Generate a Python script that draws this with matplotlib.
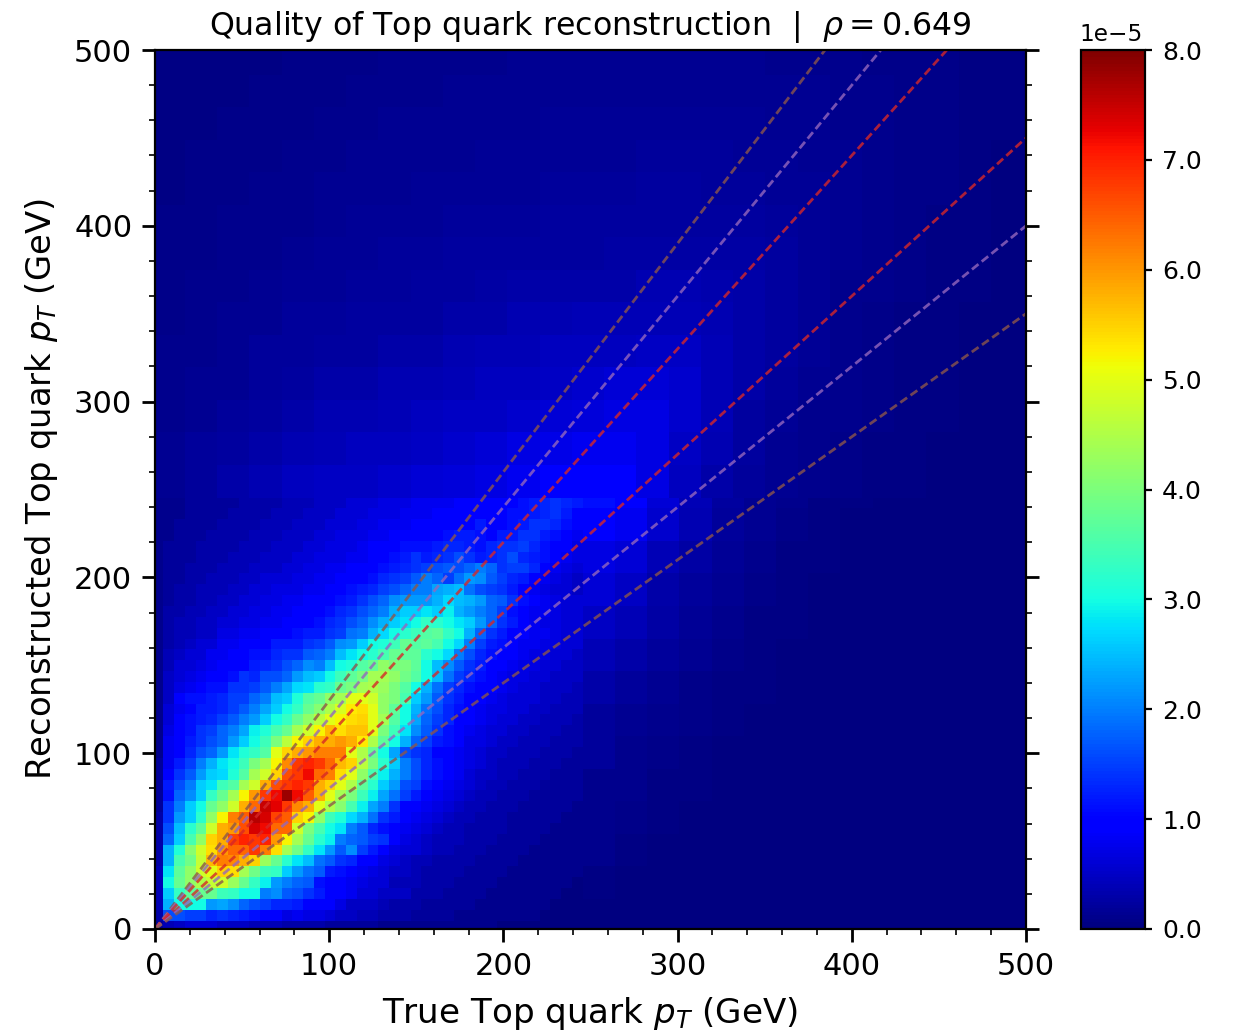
import numpy as np
import matplotlib
matplotlib.use('Agg')
import matplotlib.pyplot as plt
from matplotlib.ticker import MultipleLocator

# density values in units of 1e-6
# fine part: first 40 bins in x and y, bottom row first
core = [
    [2,4,5,6,6,6,5,5,5,4,4,4,3,3,3,3,2,2,2,2,2,1,1,1,1,1,1,1,1,1,1,1,0,0,0,0,0,0,0,0],
    [3,16,16,15,15,13,14,13,12,11,10,10,7,8,7,7,6,5,5,4,4,3,3,3,2,2,2,2,1,1,1,1,1,1,1,1,0,0,0,0],
    [4,24,30,30,30,22,23,21,18,16,15,13,13,12,10,9,9,7,5,5,5,4,3,3,3,2,2,2,2,2,1,1,1,1,1,1,1,0,0,0],
    [4,26,33,37,38,38,34,33,30,30,20,21,17,16,14,12,10,9,8,6,6,5,5,5,3,3,3,2,2,2,2,1,1,1,1,1,1,1,0,0],
    [4,30,38,42,45,47,48,43,38,33,29,22,20,18,17,11,10,10,8,7,6,6,4,4,4,3,3,3,2,2,2,2,1,1,1,1,1,1,1,0],
    [4,28,37,42,48,50,55,54,44,39,34,33,26,22,19,17,12,11,9,8,7,6,5,5,4,3,3,3,3,2,2,2,2,1,1,1,1,1,1,1],
    [3,24,35,39,47,57,62,61,58,55,43,38,32,28,25,19,17,14,13,10,9,7,6,5,4,4,3,3,3,3,2,2,2,2,1,1,1,1,1,1],
    [3,24,31,41,48,54,60,64,64,68,62,54,44,39,33,28,22,17,21,15,12,10,7,6,6,5,4,4,3,3,3,2,2,2,2,1,1,1,1,1],
    [3,18,26,35,42,55,58,67,70,68,70,60,52,44,38,32,29,20,18,17,15,14,9,7,6,5,4,4,4,3,3,3,2,2,2,2,1,1,1,1],
    [3,16,25,32,37,48,58,60,66,74,72,64,64,48,40,35,30,28,20,17,13,11,9,8,7,6,5,4,4,3,3,3,3,2,2,2,2,1,1,1],
    [3,14,22,26,32,42,52,62,65,76,74,67,65,55,52,42,34,31,27,24,19,14,12,9,8,7,6,5,4,4,3,3,3,2,2,2,2,2,1,1],
    [2,14,20,26,30,38,42,48,58,64,75,73,68,61,58,50,45,41,35,29,23,20,14,10,9,8,7,6,5,4,4,3,3,3,2,2,2,2,2,1],
    [2,11,18,21,26,33,38,44,52,60,68,72,78,72,65,58,50,44,40,34,29,23,19,15,12,10,8,7,6,5,4,4,3,3,3,2,2,2,2,2],
    [2,12,16,20,26,28,34,36,44,48,58,66,68,70,68,58,55,50,45,37,32,26,22,16,15,11,10,8,7,6,5,4,4,3,3,3,2,2,2,2],
    [2,10,14,17,22,26,27,31,36,44,48,55,66,68,72,64,62,54,50,42,35,29,24,20,16,13,11,9,8,6,5,5,4,4,3,3,3,2,2,2],
    [2,8,12,15,20,24,28,30,34,40,44,52,61,68,70,68,64,57,55,46,40,32,26,20,16,13,11,9,8,7,6,5,4,4,4,3,3,3,2,2],
    [1,8,10,13,16,18,22,28,31,33,36,50,55,58,60,62,62,62,50,45,38,30,23,16,14,13,10,9,8,7,6,5,5,4,4,4,3,3,3,2],
    [1,8,10,12,14,16,18,22,26,30,34,40,46,52,55,58,58,60,58,53,45,37,30,24,18,15,12,11,9,7,7,6,5,5,4,4,4,3,3,3],
    [1,7,10,11,14,15,18,20,23,29,31,35,38,44,48,52,57,54,56,56,50,40,34,28,21,17,14,11,10,8,7,6,6,5,5,4,4,4,3,3],
    [1,6,9,11,12,13,15,17,20,22,26,30,33,38,42,46,50,52,54,55,50,44,36,30,23,18,15,13,10,9,8,7,6,6,5,5,4,4,4,3],
    [1,6,8,10,12,12,13,15,17,20,23,26,30,33,38,41,45,49,53,54,50,42,37,30,24,19,16,13,11,10,8,7,7,6,6,5,5,4,4,4],
    [1,5,9,11,11,12,13,15,15,18,20,25,26,31,36,38,42,44,50,50,48,42,40,35,26,22,17,14,12,10,9,8,7,6,6,6,5,5,4,4],
    [1,5,7,8,9,11,11,14,14,15,17,20,23,27,28,32,33,38,40,44,45,43,40,36,30,24,19,15,13,11,10,9,8,7,6,6,5,5,5,4],
    [1,5,6,7,8,10,10,11,14,13,16,16,18,22,25,26,30,34,37,40,44,44,42,39,36,30,25,19,15,13,11,10,8,7,7,6,6,5,5,5],
    [1,4,6,6,7,8,9,10,10,12,13,14,16,18,21,20,25,30,31,36,38,42,40,40,37,30,25,21,17,14,12,10,9,8,7,7,6,6,5,5],
    [1,4,5,6,6,8,8,9,9,11,11,13,14,14,17,18,20,25,28,30,32,35,38,37,37,32,30,27,20,16,13,11,10,9,8,7,7,6,6,5],
    [1,3,4,5,6,6,8,8,9,9,10,12,12,12,14,15,17,21,22,26,30,31,34,38,36,37,35,30,27,20,15,12,11,10,8,8,7,7,6,6],
    [1,3,4,4,5,5,7,7,8,8,9,10,10,11,12,12,14,15,19,20,24,27,30,32,34,36,37,33,30,24,18,14,12,10,9,8,8,7,6,6],
    [1,3,4,4,5,5,6,6,7,7,8,8,9,10,10,11,13,14,16,18,21,24,26,28,30,33,32,30,28,26,22,18,14,12,10,8,7,7,6,6],
    [1,3,3,4,4,5,5,6,6,7,7,8,8,9,9,10,11,13,14,16,18,20,24,26,26,28,26,29,24,22,20,18,15,11,9,8,8,7,6,6],
    [1,2,3,3,4,4,5,5,6,6,7,7,8,8,9,9,10,11,12,14,16,18,21,22,22,22,24,27,25,24,22,18,17,14,11,9,8,7,6,6],
    [1,2,3,3,4,4,4,5,5,6,6,7,7,7,8,8,9,10,11,12,13,15,16,18,20,20,23,24,25,19,16,15,14,12,10,8,7,6,6,5],
    [1,2,2,3,3,4,4,4,5,5,6,6,6,7,7,8,8,9,10,10,11,13,14,15,17,20,18,15,19,22,21,17,15,13,12,10,8,7,6,5],
    [1,2,2,3,3,3,4,4,4,5,5,5,6,6,7,7,8,8,9,9,10,11,12,13,14,15,16,17,16,18,20,18,14,15,15,13,10,8,7,6],
    [1,2,2,2,3,3,3,4,4,4,5,5,5,6,6,7,7,7,8,8,9,10,11,12,14,12,13,14,16,14,12,13,14,16,13,12,11,9,8,7],
    [1,2,2,2,3,3,3,3,4,4,4,5,5,5,6,6,7,7,7,8,9,9,10,11,11,11,12,13,13,12,11,13,14,14,15,13,11,10,9,7],
    [1,1,2,2,2,3,3,3,3,4,4,4,5,5,5,6,6,7,7,7,8,8,9,9,10,10,9,11,12,12,11,10,12,12,14,14,12,11,9,8],
    [1,1,2,2,2,2,3,3,3,3,4,4,4,5,5,5,6,6,6,7,7,8,8,8,9,9,9,10,10,10,12,10,10,11,12,14,14,13,11,9],
    [1,1,1,2,2,2,2,3,3,3,3,4,4,4,5,5,5,6,6,6,7,7,7,8,8,8,9,9,9,10,9,9,10,11,11,12,13,14,12,10],
    [1,1,1,2,2,2,2,2,3,3,3,3,4,4,4,5,5,5,6,6,6,7,7,7,8,8,8,8,9,9,9,10,9,10,11,12,13,14,13,12],
]

# right of the core, read in blocks of 3x3 bins
right = [
    [0,0,0,0,0,0,0,0,0,0,0,0,0,0],
    [.6,.3,.2,0,0,0,0,0,0,0,0,0,0,0],
    [1,.6,.3,.2,0,0,0,0,0,0,0,0,0,0],
    [1,.8,.5,.3,.2,0,0,0,0,0,0,0,0,0],
    [1.2,1,.6,.4,.2,.1,0,0,0,0,0,0,0,0],
    [2,1.2,.8,.5,.3,.2,.1,0,0,0,0,0,0,0],
    [2,1.5,1,.7,.4,.3,.2,.1,0,0,0,0,0,0],
    [3,2,1.4,.9,.6,.4,.2,.2,.1,0,0,0,0,0],
    [4,3,2,1.3,.8,.5,.3,.2,.1,.1,0,0,0,0],
    [5,4,2.6,1.6,1,.6,.4,.2,.2,.1,.1,0,0,0],
    [6,5,3,2,1.3,.8,.5,.3,.2,.1,.1,0,0,0],
    [7,6,4,2.6,1.6,1,.6,.4,.2,.2,.1,.1,0,0],
    [10,8,5.5,3.5,2,1.3,.8,.5,.3,.2,.1,.1,0,0],
    [11,9,6,4,2.5,1.5,1,.6,.4,.2,.2,.1,.1,0],
]

# above the core, read in blocks of 3x3 bins
upper = [
    [1.5,2,3,3.5,4.5,5,5,5.5,6,6.5,7,8,9,10,9,7,4.5,3,2,1.5,1,.8,.5,.5,.3,.2,.2,.2],
    [1.5,2,2.5,3,3.5,4,4.5,4.5,5,5.5,6,7,7.5,8,8,7,5,3.5,2.2,1.5,1,.8,.6,.4,.3,.2,.2,.2],
    [1,1.5,2,2.5,3,3.5,3.5,4,4.5,5,5,5.5,6,6.5,7,7,5.5,4,2.5,1.8,1.2,1,.7,.5,.4,.3,.2,.2],
    [1,1.5,1.5,2,2.5,3,3,3.5,3.5,4,4.5,4.5,5,5.5,6,6,5.5,4,3,2,1.4,1,.8,.5,.4,.3,.2,.2],
    [1,1.2,1.5,2,2,2.5,2.5,3,3,3.5,4,4,4.5,4.5,4.5,5,5,4,3,2.2,1.6,1,.8,.6,.4,.3,.2,.2],
    [.8,1,1.3,1.5,2,2,2.2,2.5,2.5,3,3,3.5,3.5,4,4,4,4,3.5,3,2.4,1.6,1.2,.9,.6,.5,.3,.2,.2],
    [.8,1,1.2,1.5,1.6,1.8,2,2,2.5,2.5,2.7,3,3,3,3,3.5,3.5,3.2,3,2.4,1.8,1.2,1,.7,.5,.4,.2,.2],
    [.7,.9,1,1.2,1.5,1.6,1.8,2,2,2.2,2.4,2.5,2.5,2.5,2.8,2.8,2.8,2.8,2.6,2.2,1.8,1.4,1,.8,.6,.4,.3,.2],
    [.7,.8,1,1,1.2,1.4,1.6,1.8,1.8,2,2,2,2.2,2.3,2.4,2.4,2.4,2.4,2.2,2,1.8,1.4,1,.8,.6,.4,.3,.2],
    [.6,.8,.8,1,1,1.3,1.4,1.5,1.6,1.8,1.8,1.8,2,2,2,2.2,2.2,2,2,1.8,1.6,1.4,1,.8,.7,.5,.3,.2],
    [.6,.7,.8,.8,1,1.1,1.3,1.4,1.4,1.5,1.6,1.7,1.8,1.8,1.8,2,2,2,1.8,1.6,1.5,1.4,1.1,.9,.7,.5,.3,.3],
    [.5,.6,.7,.8,.9,1,1.1,1.3,1.3,1.4,1.4,1.5,1.6,1.7,1.7,1.7,1.7,1.7,1.6,1.5,1.4,1.2,1.1,.9,.7,.5,.4,.3],
    [.5,.6,.6,.7,.8,.9,1,1,1.2,1.3,1.3,1.4,1.4,1.5,1.5,1.5,1.5,1.5,1.5,1.4,1.3,1.2,1,.9,.7,.5,.4,.3],
    [.5,.5,.6,.6,.7,.8,.9,1,1,1.1,1.2,1.3,1.3,1.3,1.3,1.4,1.4,1.4,1.3,1.2,1.1,1,.9,.8,.7,.5,.4,.3],
]

line_slopes = [1.3, 1.2, 1.1, 0.9, 0.8, 0.7]
line_colors = ['tab:brown', 'tab:purple', 'tab:red', 'tab:red', 'tab:purple', 'tab:brown']

cbar_ticks = [0, 1e-5, 2e-5, 3e-5, 4e-5, 5e-5, 6e-5, 7e-5, 8e-5]
cbar_labels = ['0.0', '1.0', '2.0', '3.0', '4.0', '5.0', '6.0', '7.0', '8.0']

nbins = 82
edges = -1.37 + 6.17 * np.arange(nbins + 1)

grid = np.zeros((nbins, nbins))
grid[:40, :40] = np.array(core)
grid[:40, 40:] = np.repeat(np.repeat(np.array(right), 3, axis=0), 3, axis=1)[:40, :42]
grid[40:, :] = np.repeat(np.repeat(np.array(upper), 3, axis=0), 3, axis=1)[:42, :82]
grid = grid * 1e-6

W, H = 1238, 1035
fig = plt.figure(figsize=(W / 200, H / 200), dpi=200)
ax = fig.add_axes([155 / W, 1 - 929 / H, 871 / W, 879 / H])
cax = fig.add_axes([1081 / W, 1 - 929 / H, 64 / W, 879 / H])

mesh = ax.pcolormesh(edges, edges, grid, cmap='jet', vmin=0, vmax=8e-5)
for s, c in zip(line_slopes, line_colors):
    ax.plot([0, 500], [0, 500 * s], color=c, lw=1.0, alpha=0.8, dashes=(3, 1.5))

ax.set_xlim(0, 500)
ax.set_ylim(0, 500)
ax.xaxis.set_major_locator(MultipleLocator(100))
ax.yaxis.set_major_locator(MultipleLocator(100))
ax.xaxis.set_minor_locator(MultipleLocator(20))
ax.yaxis.set_minor_locator(MultipleLocator(20))
ax.tick_params(which='major', length=4.7, width=1.0, labelsize=11, right=True)
ax.tick_params(which='minor', length=2.3, width=0.6, right=True)
ax.set_xlabel('True Top quark $p_T$ (GeV)', fontsize=12.3, labelpad=5)
ax.set_ylabel('Reconstructed Top quark $p_T$ (GeV)', fontsize=12.2, labelpad=5)
ax.set_title(r'Quality of Top quark reconstruction  |  $\rho = 0.649$', fontsize=11.4, pad=5.5)

cbar = fig.colorbar(mesh, cax=cax)
cbar.set_ticks(cbar_ticks)
cbar.set_ticklabels(cbar_labels)
cax.tick_params(labelsize=9, length=2.6, width=0.8)
cax.minorticks_off()
cax.text(-0.03, 1.004, '1e\u22125', transform=cax.transAxes, fontsize=8.4, va='bottom', ha='left')

fig.savefig('out.png', dpi=200)
